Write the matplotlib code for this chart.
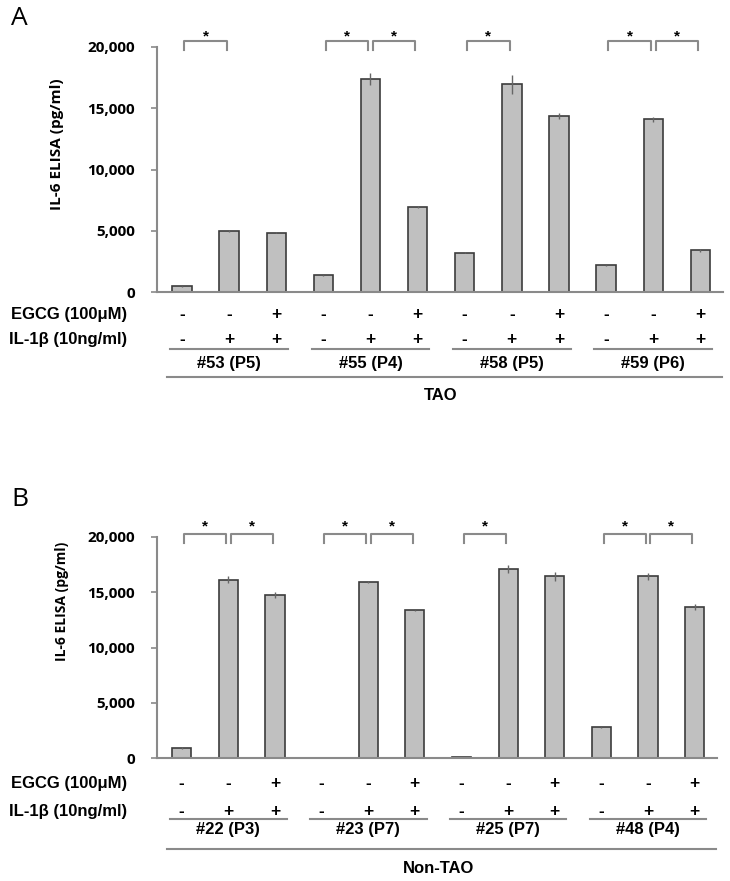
import matplotlib
matplotlib.use("Agg")
import matplotlib.pyplot as plt
import matplotlib.transforms as mtransforms
from matplotlib.ticker import FuncFormatter
import numpy as np

# ---------------- data ----------------
egcg = ["-", "-", "+"] * 4
il1b = ["-", "+", "+"] * 4

groups_a = ["#53 (P5)", "#55 (P4)", "#58 (P5)", "#59 (P6)"]
values_a = [450, 5000, 4850, 1350, 17400, 6950, 3200, 16950, 14400, 2200, 14100, 3400]
errors_a = [50, 80, 60, 40, 500, 80, 50, 800, 250, 40, 200, 100]
pairs_a = [(0, 1), (3, 4), (4, 5), (6, 7), (9, 10), (10, 11)]
title_a = "TAO"

groups_b = ["#22 (P3)", "#23 (P7)", "#25 (P7)", "#48 (P4)"]
values_b = [900, 16150, 14750, 0, 15900, 13350, 50, 17100, 16450, 2800, 16450, 13650]
errors_b = [60, 300, 300, 0, 80, 50, 0, 350, 400, 50, 300, 250]
pairs_b = [(0, 1), (1, 2), (3, 4), (4, 5), (6, 7), (9, 10), (10, 11)]
title_b = "Non-TAO"

yticks = [0, 5000, 10000, 15000, 20000]
ylabel = "IL-6 ELISA (pg/ml)"
row_labels = ["EGCG (100\u03bcM)", "IL-1\u03b2 (10ng/ml)"]

# ---------------- figure ----------------
W, H = 730, 881
fig = plt.figure(figsize=(W / 100, H / 100), dpi=100)
fig.patch.set_facecolor("white")

AX_GRAY = "#8a8a8a"
ARIAL = ["Liberation Sans", "DejaVu Sans"]
HUMAN = ["Open Sans", "DejaVu Sans"]


def fy(py):
    return 1 - py / H


def fx(px):
    return px / W


def panel(letter, letter_y, left, right, top, bottom, values, errors, pairs,
          groups, title, br_top, br_leg, star_base,
          rows_y, under_y, grp_y, long_y, title_y, ylab_x, ylab_y, ylab_size):
    ax = fig.add_axes([fx(left), fy(bottom), fx(right - left), (bottom - top) / H])
    x = np.arange(len(values))
    ax.bar(x, values, width=0.41, color="#c0c0c0", edgecolor="#3c3c3c",
           linewidth=1.2, zorder=2)
    ax.errorbar(x, values, yerr=errors, fmt="none", ecolor="#666666",
                elinewidth=1.0, capsize=0, zorder=3)
    ax.set_xlim(-0.53, 11.48)
    ax.set_ylim(0, 20000)
    ax.set_yticks(yticks)
    ax.yaxis.set_major_formatter(FuncFormatter(lambda v, p: f"{int(v):,}"))
    for lab in ax.get_yticklabels():
        lab.set_family(HUMAN)
        lab.set_fontweight("bold")
        lab.set_fontsize(11)
    ax.tick_params(axis="y", length=4, width=1.2, color=AX_GRAY, pad=12)
    ax.set_xticks([])
    for s in ["top", "right"]:
        ax.spines[s].set_visible(False)
    for s in ["left", "bottom"]:
        ax.spines[s].set_color(AX_GRAY)
        ax.spines[s].set_linewidth(1.5)

    # brackets
    for i, j in pairs:
        x0, x1 = i + 0.05, j - 0.05
        ax.plot([x0, x0, x1, x1], [br_leg, br_top, br_top, br_leg],
                color=AX_GRAY, lw=1.5, clip_on=False, zorder=4)
        ax.text((i + j) / 2, star_base, "*", ha="center", va="baseline",
                fontsize=11, fontweight="bold", family=ARIAL)

    trans = mtransforms.blended_transform_factory(ax.transData, fig.transFigure)
    # row labels
    for lab, ry, signs in zip(row_labels, rows_y, [egcg, il1b]):
        fig.text(fx(127), fy(ry), lab, ha="right", va="baseline",
                 fontsize=12, fontweight="bold", family=ARIAL)
        for xi, s in zip(x, signs):
            ax.text(xi, fy(ry), s, transform=trans, ha="center", va="baseline",
                    fontsize=12.5, fontweight="bold", family=ARIAL)
    # group lines and labels
    for g, name in enumerate(groups):
        c0, c2 = 3 * g, 3 * g + 2
        ax.plot([c0 - 0.25, c2 + 0.25], [fy(under_y)] * 2, transform=trans,
                color=AX_GRAY, lw=1.5, clip_on=False)
        ax.text(3 * g + 1, fy(grp_y), name, transform=trans, ha="center",
                va="baseline", fontsize=12, fontweight="bold", family=ARIAL)
    ax.plot([-0.32, 11.46], [fy(long_y)] * 2, transform=trans, color=AX_GRAY,
            lw=1.5, clip_on=False)
    ax.text(5.5, fy(title_y), title, transform=trans, ha="center",
            va="baseline", fontsize=12, fontweight="bold", family=ARIAL)

    fig.text(fx(ylab_x), fy(ylab_y), ylabel, rotation=90, ha="center",
             va="center", fontsize=ylab_size, fontweight="bold", family=HUMAN)
    fig.text(fx(11), fy(letter_y), letter, ha="left", va="baseline",
             fontsize=19, family=HUMAN)
    return ax


panel("A", 25, 157, 723, 47, 292, values_a, errors_a, pairs_a, groups_a,
      title_a, 20490, 19755, 20570,
      rows_y=(319, 344), under_y=349, grp_y=368, long_y=377, title_y=400,
      ylab_x=57, ylab_y=144, ylab_size=11)

panel("B", 506, 157, 717, 537, 758, values_b, errors_b, pairs_b, groups_b,
      title_b, 20270, 19460, 20630,
      rows_y=(788, 816), under_y=819, grp_y=834, long_y=849, title_y=873,
      ylab_x=62, ylab_y=601, ylab_size=10)

fig.savefig("out.png", dpi=100, facecolor="white")
